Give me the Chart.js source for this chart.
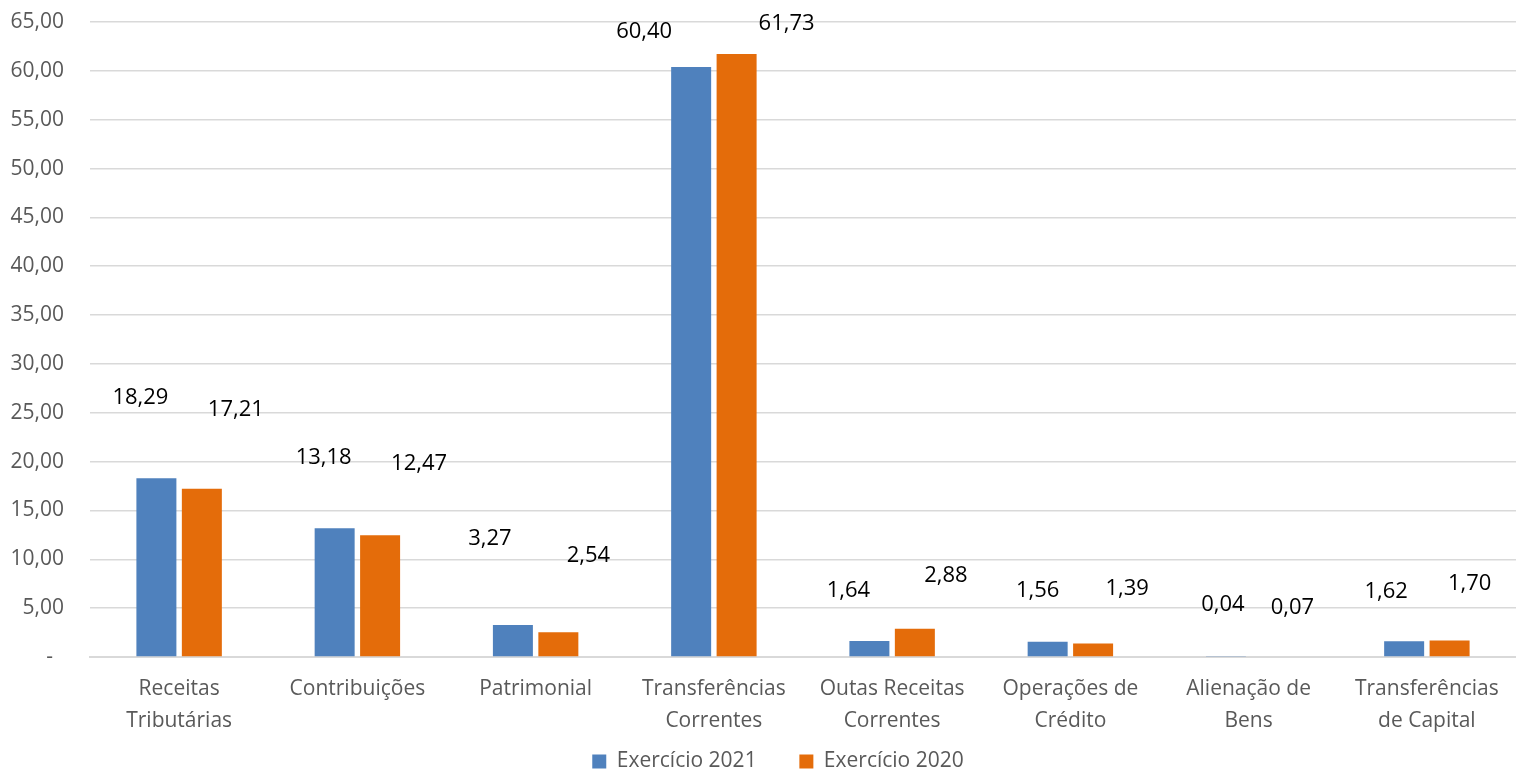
<!DOCTYPE html>
<html>
<head>
<meta charset="utf-8">
<script src="https://cdn.jsdelivr.net/npm/chart.js@4"></script>
<style>
    html, body { margin: 0; padding: 0; background: #fff; }
    #wrap { width: 1516px; height: 772px; }
</style>
</head>
<body>
<div id="wrap"><canvas id="receitasChart"></canvas></div>
<script>
const categories = [
    ['Receitas', 'Tributárias'],
    'Contribuições',
    'Patrimonial',
    ['Transferências', 'Correntes'],
    ['Outas Receitas', 'Correntes'],
    ['Operações de', 'Crédito'],
    ['Alienação de', 'Bens'],
    ['Transferências', 'de Capital']
];
const exercicio2021 = [18.29, 13.18, 3.27, 60.40, 1.64, 1.56, 0.04, 1.62];
const exercicio2020 = [17.21, 12.47, 2.54, 61.73, 2.88, 1.39, 0.07, 1.70];
const yTicks = [0, 5, 10, 15, 20, 25, 30, 35, 40, 45, 50, 55, 60, 65];

// labels were dragged around by hand in the original, so each one gets a nudge (px)
const labelShift2021 = [[-16, -81], [-11, -71], [-23, -86], [-47, -35], [-21, -50], [-10, -51], [-3, -52], [-18, -49]];
const labelShift2020 = [[34, -79], [39, -71], [30, -76], [50, -30], [31, -53], [34, -55], [21, -49], [20, -57]];

const FONT = "'Open Sans', 'Noto Sans', sans-serif";
const fmt = v => v.toFixed(2).replace('.', ',');

const valueLabels = {
    id: 'valueLabels',
    afterDatasetsDraw(chart) {
        const ctx = chart.ctx;
        const shifts = [labelShift2021, labelShift2020];
        ctx.save();
        ctx.font = '22px ' + FONT;
        ctx.fillStyle = '#000';
        ctx.textAlign = 'center';
        ctx.textBaseline = 'middle';
        chart.data.datasets.forEach((ds, di) => {
            chart.getDatasetMeta(di).data.forEach((bar, i) => {
                const [dx, dy] = shifts[di][i];
                ctx.fillText(fmt(ds.data[i]), bar.x + dx, bar.y + dy);
            });
        });
        ctx.restore();
    }
};

// the original legend sits a bit right of the page centre
const legendNudge = {
    id: 'legendNudge',
    afterLayout(chart) {
        chart.legend.left += 40;
        chart.legend.adjustHitBoxes();
    }
};

new Chart(document.getElementById('receitasChart'), {
    type: 'bar',
    data: {
        labels: categories,
        datasets: [
            { label: 'Exercício 2021', data: exercicio2021, backgroundColor: '#4F81BD' },
            { label: 'Exercício 2020', data: exercicio2020, backgroundColor: '#E46C0A' }
        ]
    },
    options: {
        responsive: true,
        maintainAspectRatio: false,
        animation: false,
        layout: { padding: { top: 22, right: 0, bottom: -10, left: 0 } },
        datasets: { bar: { categoryPercentage: 0.51, barPercentage: 0.88 } },
        plugins: {
            tooltip: { enabled: false },
            legend: {
                position: 'bottom',
                labels: {
                    font: { family: FONT, size: 21 },
                    color: '#595959',
                    boxWidth: 14,
                    boxHeight: 14,
                    padding: 10,
                    generateLabels: chart => {
                        const items = Chart.defaults.plugins.legend.labels.generateLabels(chart);
                        // wider gap between the two entries, like the original
                        items[0].text += '      ';
                        return items;
                    }
                }
            }
        },
        scales: {
            x: {
                grid: { display: false, drawTicks: false },
                border: { color: '#d9d9d9', width: 2 },
                ticks: {
                    font: { family: FONT, size: 21, lineHeight: 1.52 },
                    color: '#595959',
                    padding: 16,
                    maxRotation: 0,
                    autoSkip: false
                },
                afterFit: s => { s.height = 84; }
            },
            y: {
                min: 0,
                max: 65,
                afterBuildTicks: s => { s.ticks = yTicks.map(v => ({ value: v })); },
                grid: { color: '#d9d9d9', lineWidth: 1.5, drawTicks: false },
                border: { display: false },
                ticks: {
                    font: { family: FONT, size: 21 },
                    color: '#595959',
                    padding: 26,
                    callback: v => v === 0 ? '-  ' : fmt(v)
                },
                afterFit: s => {
                    s.width = 90;
                    s.paddingTop = 0;
                    s.paddingBottom = 0;
                }
            }
        }
    },
    plugins: [valueLabels, legendNudge]
});
</script>
</body>
</html>
